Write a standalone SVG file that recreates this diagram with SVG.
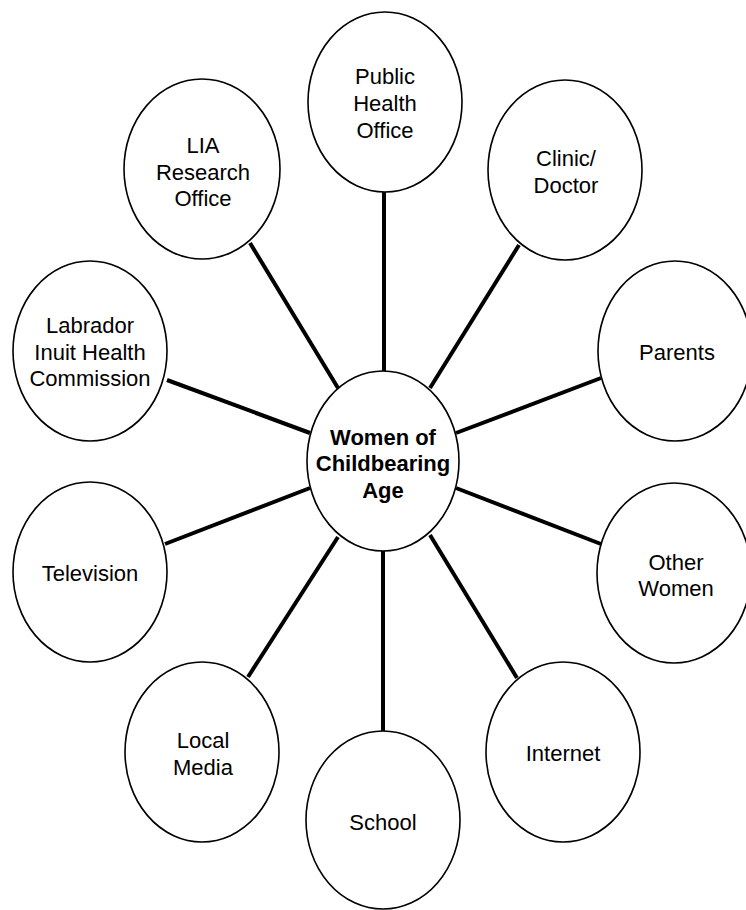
<svg xmlns="http://www.w3.org/2000/svg" width="746" height="910" viewBox="0 0 746 910">
<style>
.bg{fill:#fff}
.node{fill:#fff;stroke:#000;stroke-width:1.6}
.edge{stroke:#000;stroke-width:4;stroke-linecap:butt}
text{font-family:"Liberation Sans",Arial,sans-serif;font-size:22px;fill:#000;text-anchor:middle}
.bold{font-weight:bold}
</style>
<rect class="bg" x="0" y="0" width="746" height="910"/>
<g id="connectors">
<line class="edge" x1="384" y1="192" x2="384" y2="372"/>
<line class="edge" x1="519" y1="245" x2="430" y2="388"/>
<line class="edge" x1="601" y1="378" x2="456" y2="433"/>
<line class="edge" x1="601" y1="544" x2="456" y2="488"/>
<line class="edge" x1="517" y1="678" x2="430" y2="535"/>
<line class="edge" x1="383" y1="551" x2="383" y2="731"/>
<line class="edge" x1="248" y1="677" x2="338" y2="537"/>
<line class="edge" x1="165" y1="544" x2="310" y2="488"/>
<line class="edge" x1="167" y1="380" x2="310" y2="433"/>
<line class="edge" x1="250" y1="243" x2="338" y2="388"/>
</g>
<g id="center">
<ellipse class="node" cx="383" cy="461" rx="76" ry="90"/>
<text class="bold" x="383" y="445">Women of</text>
<text class="bold" x="383" y="471">Childbearing</text>
<text class="bold" x="383" y="498">Age</text>
</g>
<g id="public-health-office">
<ellipse class="node" cx="385" cy="102" rx="77" ry="90"/>
<text x="385" y="84">Public</text>
<text x="385" y="111">Health</text>
<text x="385" y="138">Office</text>
</g>
<g id="clinic-doctor">
<ellipse class="node" cx="565" cy="170" rx="77" ry="90"/>
<text x="566" y="166">Clinic/</text>
<text x="566" y="193">Doctor</text>
</g>
<g id="parents">
<ellipse class="node" cx="675" cy="351" rx="77" ry="90"/>
<text x="677" y="360">Parents</text>
</g>
<g id="other-women">
<ellipse class="node" cx="674" cy="573" rx="77" ry="90"/>
<text x="676" y="570">Other</text>
<text x="676" y="596">Women</text>
</g>
<g id="internet">
<ellipse class="node" cx="563" cy="752" rx="77" ry="90"/>
<text x="563" y="761">Internet</text>
</g>
<g id="school">
<ellipse class="node" cx="383" cy="820" rx="77" ry="89"/>
<text x="383" y="830">School</text>
</g>
<g id="local-media">
<ellipse class="node" cx="202" cy="752" rx="77" ry="90"/>
<text x="203" y="748">Local</text>
<text x="203" y="775">Media</text>
</g>
<g id="television">
<ellipse class="node" cx="90" cy="572" rx="77" ry="90"/>
<text x="90" y="581">Television</text>
</g>
<g id="labrador-inuit-health-commission">
<ellipse class="node" cx="90" cy="351" rx="77" ry="90"/>
<text x="90" y="333">Labrador</text>
<text x="90" y="360">Inuit Health</text>
<text x="90" y="386">Commission</text>
</g>
<g id="lia-research-office">
<ellipse class="node" cx="202" cy="169" rx="78" ry="90"/>
<text x="203" y="153">LIA</text>
<text x="203" y="180">Research</text>
<text x="203" y="206">Office</text>
</g>
</svg>
